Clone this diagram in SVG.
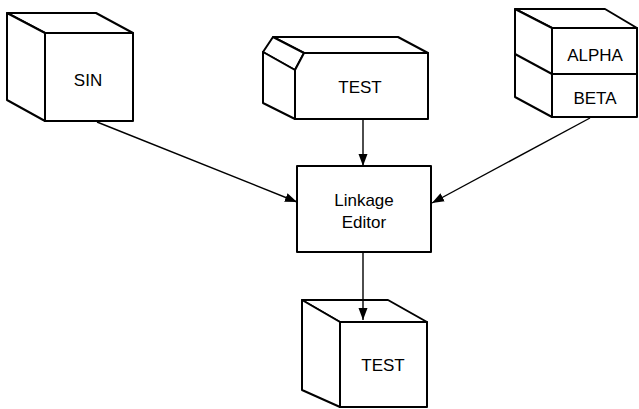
<svg xmlns="http://www.w3.org/2000/svg" width="639" height="409" viewBox="0 0 639 409">
  <style>
    .box { fill: #ffffff; stroke: #000000; stroke-width: 2; stroke-linejoin: round; }
    .edge { fill: none; stroke: #000000; stroke-width: 1.4; }
    .label { font-family: "Liberation Sans", Arial, sans-serif; font-size: 17px; fill: #000000; text-anchor: middle; }
  </style>
  <defs>
    <marker id="arrow" viewBox="0 0 12 10" refX="12" refY="5" markerWidth="12" markerHeight="10" markerUnits="userSpaceOnUse" orient="auto">
      <path d="M0,0.5 L12,5 L0,9.5 Z" fill="#000000"/>
    </marker>
  </defs>
  <rect width="639" height="409" fill="#ffffff"/>

  <!-- SIN module -->
  <g id="sin">
    <path class="box" d="M7,13 L96,13 L133,33 L45,33 Z"/>
    <path class="box" d="M7,13 L45,33 L45,121 L7,100 Z"/>
    <rect class="box" x="45" y="33" width="88" height="88"/>
    <text class="label" x="88" y="86">SIN</text>
  </g>

  <!-- TEST input (chamfered) -->
  <g id="test-in">
    <path class="box" d="M273,37 L398,37 L428,53 L304,53 Z"/>
    <path class="box" d="M263,52 L273,37 L304,53 L295,70 Z"/>
    <path class="box" d="M263,52 L295,70 L295,119 L263,103 Z"/>
    <path class="box" d="M304,53 L428,53 L428,119 L295,119 L295,70 Z"/>
    <text class="label" x="360" y="93">TEST</text>
  </g>

  <!-- ALPHA / BETA stacked module -->
  <g id="alpha-beta">
    <path class="box" d="M515,9 L605,9 L637,28 L552,28 Z"/>
    <path class="box" d="M515,9 L552,28 L552,117 L515,97 Z"/>
    <rect class="box" x="552" y="28" width="85" height="89"/>
    <line class="box" x1="515" y1="54" x2="552" y2="74"/>
    <line class="box" x1="552" y1="74" x2="637" y2="74"/>
    <text class="label" x="595" y="61">ALPHA</text>
    <text class="label" x="595" y="104">BETA</text>
  </g>

  <!-- Linkage Editor -->
  <g id="linkage-editor">
    <rect class="box" x="297" y="166" width="134" height="86"/>
    <text class="label" x="364" y="206">Linkage</text>
    <text class="label" x="364" y="228">Editor</text>
  </g>

  <!-- TEST output module -->
  <g id="test-out">
    <path class="box" d="M302,300 L388,300 L427,322 L340,322 Z"/>
    <path class="box" d="M302,300 L340,322 L340,407 L302,390 Z"/>
    <rect class="box" x="340" y="322" width="87" height="85"/>
    <text class="label" x="383" y="371">TEST</text>
  </g>

  <!-- Connectors, drawn over the boxes so the last arrowhead shows on the top face -->
  <g id="connectors">
    <line class="edge" x1="97" y1="122" x2="297" y2="202" marker-end="url(#arrow)"/>
    <line class="edge" x1="363" y1="120" x2="363" y2="166" marker-end="url(#arrow)"/>
    <line class="edge" x1="590" y1="118" x2="432" y2="203" marker-end="url(#arrow)"/>
    <line class="edge" x1="363" y1="253" x2="363" y2="320" marker-end="url(#arrow)"/>
  </g>
</svg>
